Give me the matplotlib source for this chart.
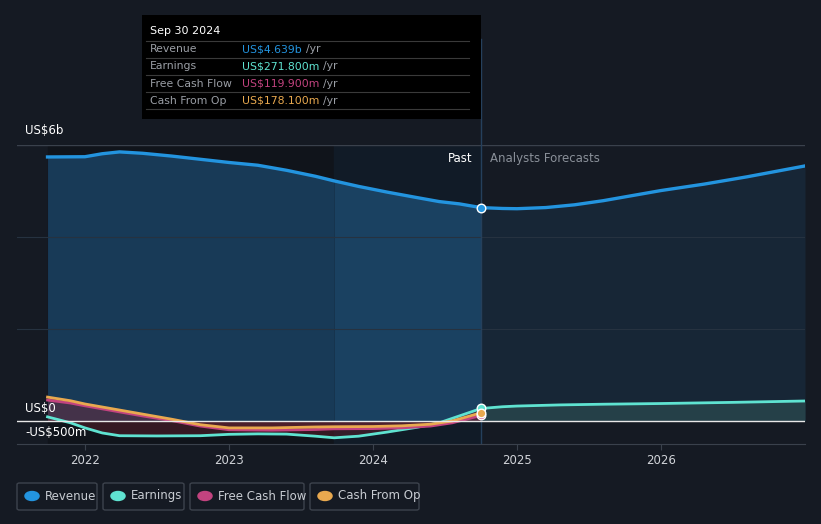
import numpy as np
import matplotlib.pyplot as plt
from matplotlib.patches import FancyBboxPatch, Rectangle

# values in US$ millions, x in decimal years
rev_x = [2021.74, 2022.0, 2022.12, 2022.24, 2022.4, 2022.6, 2022.8, 2023.0, 2023.2, 2023.4, 2023.6, 2023.73,
         2023.9, 2024.1, 2024.3, 2024.46, 2024.6, 2024.75]
rev_y = [5740, 5745, 5810, 5850, 5820, 5760, 5690, 5620, 5560, 5450, 5320, 5220,
         5100, 4975, 4860, 4770, 4720, 4639]
rev_fx = [2024.75, 2024.9, 2025.0, 2025.2, 2025.4, 2025.6, 2025.8, 2026.0, 2026.3, 2026.6, 2027.0]
rev_fy = [4639, 4620, 4615, 4640, 4700, 4790, 4900, 5010, 5150, 5310, 5545]

earn_x = [2021.74, 2021.9, 2022.0, 2022.12, 2022.24, 2022.5, 2022.8, 2023.0, 2023.2, 2023.4, 2023.6,
          2023.73, 2023.9, 2024.1, 2024.3, 2024.46, 2024.6, 2024.75]
earn_y = [90, -40, -150, -260, -320, -325, -320, -290, -280, -285, -330,
          -365, -330, -240, -140, -40, 110, 272]
earn_fx = [2024.75, 2024.9, 2025.0, 2025.3, 2025.6, 2026.0, 2026.5, 2027.0]
earn_fy = [272, 310, 325, 350, 365, 380, 405, 435]

fcf_x = [2021.74, 2021.9, 2022.0, 2022.2, 2022.4, 2022.6, 2022.8, 2023.0, 2023.3, 2023.6, 2023.73,
         2024.0, 2024.2, 2024.4, 2024.55, 2024.75]
fcf_y = [455, 390, 330, 220, 110, 10, -110, -190, -200, -185, -170,
         -165, -150, -110, -40, 120]
cfo_x = [2021.74, 2021.9, 2022.0, 2022.2, 2022.4, 2022.6, 2022.8, 2023.0, 2023.3, 2023.6, 2023.73,
         2024.0, 2024.2, 2024.4, 2024.55, 2024.75]
cfo_y = [520, 440, 370, 260, 150, 40, -80, -150, -150, -130, -125,
         -120, -105, -70, 0, 178]

BG = '#151a23'
C_REV = '#2394df'
C_EARN = '#5fe3d1'
C_FCF = '#c2437f'
C_CFO = '#e9a94f'
now = 2024.75
band_start = 2023.73

fig = plt.figure(figsize=(8.21, 5.24), dpi=100, facecolor=BG)
ax = fig.add_axes([17/821, 80/524, 788/821, 299/524])
ax.set_facecolor(BG)
ax.set_xlim(2021.528, 2027.0)
ax.set_ylim(-500, 6000)

# past region darker, last year highlighted
ax.axvspan(2021.74, band_start, color='#10141b', zorder=0)
ax.axvspan(band_start, now, color='#111b27', zorder=0)

for yv in [2000, 4000]:
    ax.axhline(yv, color='#263240', lw=0.8, zorder=4)
ax.axhline(6000, color='#3a414c', lw=1.0, zorder=4)

k = rev_x.index(band_start)
ax.fill_between(rev_x[:k + 1], rev_y[:k + 1], 0, color='#183a57', lw=0, zorder=2)
ax.fill_between(rev_x[k:], rev_y[k:], 0, color='#1a4161', lw=0, zorder=2)
ax.fill_between(rev_fx, rev_fy, 0, color='#172636', lw=0, zorder=2)
ax.plot(rev_x, rev_y, color=C_REV, lw=2.4, zorder=5)
ax.plot(rev_fx, rev_fy, color=C_REV, lw=2.4, zorder=5)

ax.fill_between(earn_fx, earn_fy, 0, color='#254048', lw=0, zorder=3)
ax.fill_between(cfo_x, cfo_y, 0, color='#7a2a3a', alpha=0.45, lw=0, zorder=3)
ax.fill_between(earn_x, earn_y, 0, color='#5a1f2c', alpha=0.5, lw=0, zorder=3)

ax.plot(earn_x, earn_y, color=C_EARN, lw=2, zorder=6)
ax.plot(earn_fx, earn_fy, color=C_EARN, lw=2, zorder=6)
ax.plot(fcf_x, fcf_y, color=C_FCF, lw=2, zorder=6)
ax.plot(cfo_x, cfo_y, color=C_CFO, lw=2, zorder=6)
ax.axhline(0, color='#e8e8e8', lw=1, zorder=7)

for yv, c in [(rev_y[-1], C_REV), (earn_y[-1], C_EARN), (fcf_y[-1], C_FCF), (cfo_y[-1], C_CFO)]:
    ax.scatter([now], [yv], s=38, color=c, edgecolor='white', linewidth=1, zorder=9)

ax.axvline(now, color='#25405c', lw=1, zorder=4)
ax.plot([now, now], [6000, 6000 + 2300], color='#25405c', lw=1, clip_on=False)

ax.text(now - 0.06, 5700, 'Past', color='white', fontsize=8.5, ha='right', va='center')
ax.text(now + 0.06, 5700, 'Analysts Forecasts', color='#8a9099', fontsize=8.5, ha='left', va='center')

for s in ['top', 'right', 'left']:
    ax.spines[s].set_visible(False)
ax.spines['bottom'].set_color('#3a414c')
ax.set_yticks([])
ax.set_xticks([2022, 2023, 2024, 2025, 2026])
ax.set_xticklabels(['2022', '2023', '2024', '2025', '2026'])
ax.tick_params(axis='x', colors='#3a414c', labelcolor='#d0d3d8', labelsize=8.5, length=4)

fig.text(25/821, 1 - 131/524, 'US$6b', color='white', fontsize=8.5, va='center')
fig.text(25/821, 1 - 409/524, 'US$0', color='white', fontsize=8.5, va='center')
fig.text(25/821, 1 - 432/524, '-US$500m', color='white', fontsize=8.5, va='center')

# tooltip
W, H = 821, 524
fig.patches.append(Rectangle((142/W, 1 - 119/H), 339/W, 104/H, transform=fig.transFigure,
                             facecolor='black', edgecolor='none', zorder=10))
fig.text(150/W, 1 - 31/H, 'Sep 30 2024', color='white', fontsize=8, va='center', zorder=11)
rows = [('Revenue', 'US$4.639b', C_REV), ('Earnings', 'US$271.800m', C_EARN),
        ('Free Cash Flow', 'US$119.900m', C_FCF), ('Cash From Op', 'US$178.100m', C_CFO)]
renderer = fig.canvas.get_renderer()
for i, (lab, val, c) in enumerate(rows):
    yy = 49 + i * 17.3
    fig.text(150/W, 1 - yy/H, lab, color='#9a9ea5', fontsize=7.8, va='center', zorder=11)
    t = fig.text(242/W, 1 - yy/H, val, color=c, fontsize=7.8, va='center', zorder=11)
    x_end = t.get_window_extent(renderer=renderer).x1
    fig.text((x_end + 4)/W, 1 - yy/H, '/yr', color='#9a9ea5', fontsize=7.8, va='center', zorder=11)
    fig.lines.append(plt.Line2D([146/W, 469/W], [1 - (yy - 8.5)/H] * 2, transform=fig.transFigure,
                                color='#3a3a3a', lw=0.8, zorder=11))
fig.lines.append(plt.Line2D([146/W, 469/W], [1 - (49 + 3 * 17.3 + 8.5)/H] * 2, transform=fig.transFigure,
                            color='#3a3a3a', lw=0.8, zorder=11))

# legend boxes
legend = [('Revenue', C_REV, 17, 80), ('Earnings', C_EARN, 103, 81), ('Free Cash Flow', C_FCF, 190, 114),
          ('Cash From Op', C_CFO, 310, 109)]
for lab, c, x0, w in legend:
    fig.patches.append(FancyBboxPatch((x0/W, 1 - 510/H), w/W, 27/H, boxstyle='round,pad=0,rounding_size=0.003',
                                      transform=fig.transFigure, facecolor=BG, edgecolor='#3d434d', lw=1))
    fig.patches.append(plt.Circle(((x0 + 15)/W, 1 - 496/H), 4.5/H, transform=fig.transFigure, color=c))
    fig.text((x0 + 28)/W, 1 - 496/H, lab, color='#c8ccd2', fontsize=8.5, va='center')

fig.savefig('out.png', dpi=100, facecolor=BG)
